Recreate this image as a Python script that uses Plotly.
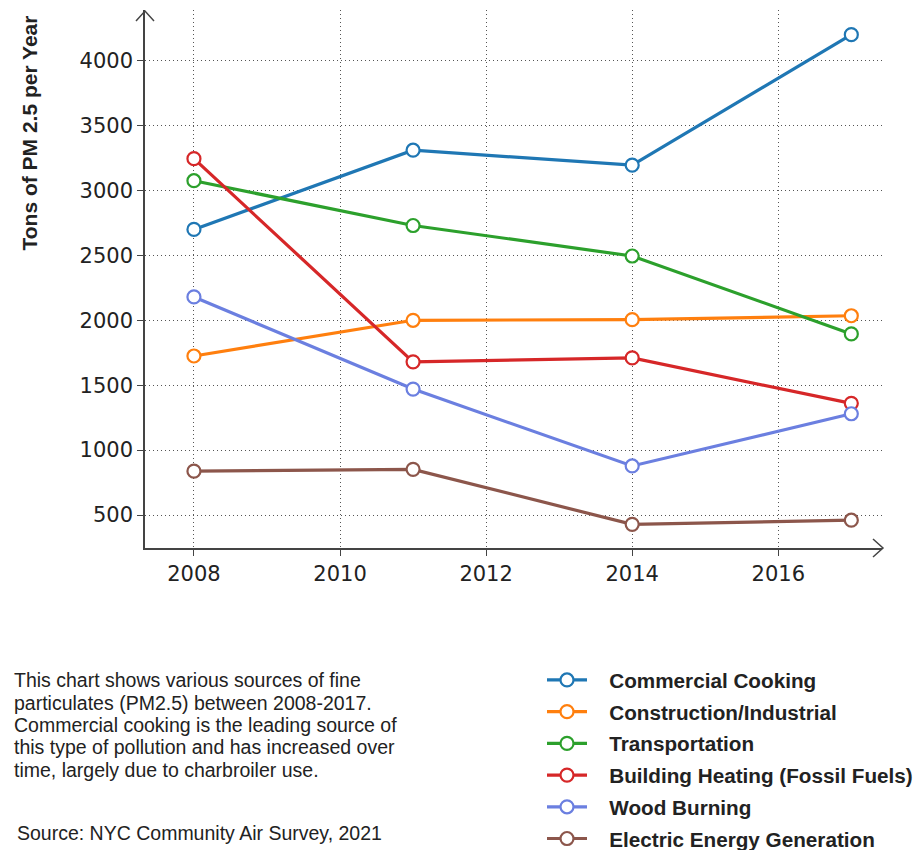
import plotly.graph_objects as go

years = [2008, 2011, 2014, 2017]
series_names = ["Commercial Cooking", "Construction/Industrial", "Transportation",
                "Building Heating (Fossil Fuels)", "Wood Burning", "Electric Energy Generation"]
commercial_cooking = [2700, 3310, 3195, 4200]
construction_industrial = [1725, 2000, 2005, 2035]
transportation = [3075, 2730, 2495, 1895]
building_heating = [3245, 1680, 1710, 1360]
wood_burning = [2180, 1470, 878, 1280]
electric_energy = [838, 852, 428, 460]
colors = ["#1f77b4", "#ff7f0e", "#2ca02c", "#d62728", "#6b7fe0", "#8c564b"]
x_ticks = [2008, 2010, 2012, 2014, 2016]
y_ticks = [500, 1000, 1500, 2000, 2500, 3000, 3500, 4000]
desc_lines = ["This chart shows various sources of fine",
              "particulates (PM2.5) between 2008-2017.",
              "Commercial cooking is the leading source of",
              "this type of pollution and has increased over",
              "time, largely due to charbroiler use."]
source_text = "Source: NYC Community Air Survey, 2021"
y_title = "Tons of PM 2.5 per Year"

all_values = [commercial_cooking, construction_industrial, transportation,
              building_heating, wood_burning, electric_energy]

FONT = "Liberation Sans"
TICKFONT = "DejaVu Sans"
W, H = 914, 850
ML, MR, MT, MB = 145, 32, 10, 302
PW, PH = W - ML - MR, H - MT - MB

fig = go.Figure()
for i, (name, vals, c) in enumerate(zip(series_names, all_values, colors)):
    fig.add_trace(go.Scatter(
        x=years, y=vals, name="\u00a0\u00a0\u00a0" + name, mode="lines+markers",
        legendgroup=f"g{i}",
        line=dict(color=c, width=3.2),
        marker=dict(symbol="circle", size=13, color="white", line=dict(color=c, width=2.2)),
        cliponaxis=False,
    ))

def px_x(p):
    return (p - ML) / PW

def px_y(p):
    return (H - MB - p) / PH

shapes = []
shapes.append(dict(type="path", xref="paper", yref="paper",
                   path=f"M {px_x(136)} {px_y(21)} L {px_x(145)} {px_y(11)} L {px_x(154)} {px_y(21)}",
                   line=dict(color="#444", width=1.5)))
shapes.append(dict(type="path", xref="paper", yref="paper",
                   path=f"M {px_x(873)} {px_y(539)} L {px_x(883)} {px_y(548)} L {px_x(873)} {px_y(557)}",
                   line=dict(color="#444", width=1.5)))

fig.update_layout(
    width=W, height=H,
    margin=dict(l=ML, r=MR, t=MT, b=MB, autoexpand=False),
    paper_bgcolor="white", plot_bgcolor="white",
    font=dict(family=FONT, color="#222"),
    shapes=shapes,
    xaxis=dict(range=[2007.33, 2017.42], tickvals=x_ticks, showgrid=True,
               gridcolor="#555", griddash="1px,3px", gridwidth=1.3,
               showline=True, linecolor="#444", linewidth=1.5,
               ticks="outside", ticklen=6, tickcolor="#444",
               tickfont=dict(size=21, family=TICKFONT, color="#222"), zeroline=False),
    yaxis=dict(range=[246, 4390], tickvals=y_ticks, showgrid=True,
               gridcolor="#555", griddash="1px,3px", gridwidth=1.3,
               showline=True, linecolor="#444", linewidth=1.5,
               ticks="outside", ticklen=6, tickcolor="#444",
               tickfont=dict(size=21, family=TICKFONT, color="#222"), zeroline=False),
    legend=dict(x=px_x(542), y=px_y(660), xanchor="left", yanchor="top",
                font=dict(size=20.7, family=FONT, color="#222", weight="bold"),
                itemwidth=40, bgcolor="rgba(0,0,0,0)", tracegroupgap=1.8),
    showlegend=True,
)

fig.add_annotation(text="<b>" + y_title + "</b>", xref="paper", yref="paper",
                   x=px_x(29), y=px_y(133.5), textangle=-90, showarrow=False,
                   font=dict(size=21, family=FONT, color="#222"),
                   xanchor="center", yanchor="middle")

for line, yc in zip(desc_lines, [680, 702.5, 725, 747.5, 770]):
    fig.add_annotation(text=line, xref="paper", yref="paper",
                       x=px_x(12), y=px_y(yc), xanchor="left", yanchor="middle",
                       align="left", showarrow=False,
                       font=dict(size=19.5, family=FONT, color="#222"))
fig.add_annotation(text=source_text, xref="paper", yref="paper",
                   x=px_x(15), y=px_y(833), xanchor="left", yanchor="middle",
                   align="left", showarrow=False,
                   font=dict(size=19.5, family=FONT, color="#222"))

fig.write_html("out.html", config={"displayModeBar": False},
               post_script="document.body.style.margin='0';")
